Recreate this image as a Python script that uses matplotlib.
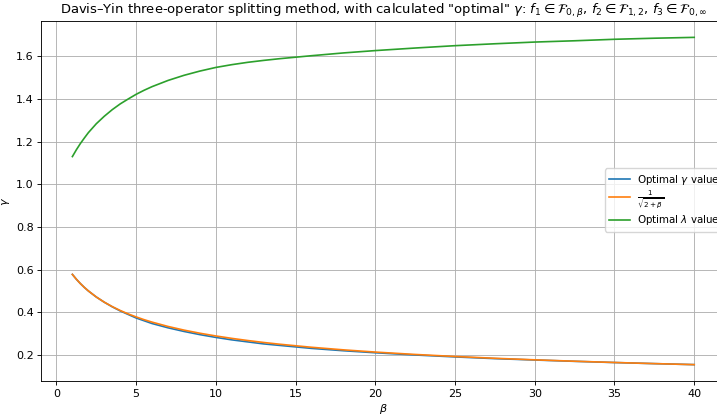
import matplotlib
matplotlib.use("Agg")
import matplotlib.pyplot as plt

beta = [1.0, 1.25, 1.5, 1.75, 2.0, 2.5, 3.0, 3.5, 4.0, 4.5, 5.0, 5.5, 6.0, 7.0, 8.0,
        9.0, 10.0, 11.0, 12.0, 13.0, 14.0, 16.0, 18.0, 20.0, 22.5, 25.0, 27.5, 30.0,
        32.5, 35.0, 37.5, 40.0]
gamma_opt = [0.5774, 0.5547, 0.5345, 0.5164, 0.5000, 0.4714, 0.4470, 0.4254, 0.4062,
             0.3895, 0.3730, 0.3600, 0.3470, 0.3270, 0.3100, 0.2950, 0.2820, 0.2705,
             0.2610, 0.2515, 0.2445, 0.2305, 0.2195, 0.2100, 0.1995, 0.1905, 0.1825,
             0.1760, 0.1698, 0.1641, 0.1590, 0.1543]
gamma_ref = [0.5774, 0.5547, 0.5345, 0.5164, 0.5000, 0.4714, 0.4472, 0.4264, 0.4082,
             0.3922, 0.3780, 0.3651, 0.3536, 0.3333, 0.3162, 0.3015, 0.2887, 0.2774,
             0.2673, 0.2582, 0.2500, 0.2357, 0.2236, 0.2132, 0.2020, 0.1925, 0.1841,
             0.1768, 0.1703, 0.1644, 0.1591, 0.1543]
lambda_opt = [1.130, 1.162, 1.191, 1.217, 1.242, 1.284, 1.319, 1.350, 1.377, 1.400,
              1.422, 1.441, 1.458, 1.487, 1.511, 1.531, 1.548, 1.561, 1.572, 1.581,
              1.589, 1.603, 1.616, 1.627, 1.639, 1.650, 1.659, 1.667, 1.673, 1.680,
              1.685, 1.689]

s = 0.8
plt.rcParams.update({
    "font.size": 10 * s,
    "axes.titlesize": 9.45,
    "lines.linewidth": 1.5 * s,
    "grid.linewidth": 0.8 * s,
    "axes.linewidth": 0.8 * s,
    "xtick.major.width": 0.8 * s,
    "ytick.major.width": 0.8 * s,
    "xtick.major.size": 3.5 * s,
    "ytick.major.size": 3.5 * s,
    "xtick.major.pad": 3.5 * s,
    "ytick.major.pad": 3.5 * s,
    "axes.titlepad": 6 * s,
    "axes.labelpad": 2.5,
    "legend.fontsize": 7.4,
})

fig = plt.figure(figsize=(7.17, 4.15), dpi=100)
ax = fig.add_axes([41.3 / 717, 1 - 381 / 415, (725.3 - 41.3) / 717, 360 / 415])

ax.plot(beta, gamma_opt, label=r"Optimal $\gamma$ value")
ax.plot(beta, gamma_ref, label=r"$\frac{1}{\sqrt{2+\beta}}$")
ax.plot(beta, lambda_opt, label=r"Optimal $\lambda$ value")

ax.set_xlabel(r"$\beta$")
ax.set_ylabel(r"$\gamma$")
ax.set_title(r'Davis–Yin three-operator splitting method, with calculated "optimal" $\gamma$: '
             r'$f_1 \in \mathcal{F}_{0,\beta}$, $f_2 \in \mathcal{F}_{1,2}$, $f_3 \in \mathcal{F}_{0,\infty}$')
ax.grid(True)
ax.legend(loc="center left", bbox_to_anchor=(605 / 717, 1 - 200 / 415),
          bbox_transform=fig.transFigure, borderaxespad=0, labelspacing=0.2,
          handletextpad=0.7)

fig.savefig("out.png", dpi=100)
